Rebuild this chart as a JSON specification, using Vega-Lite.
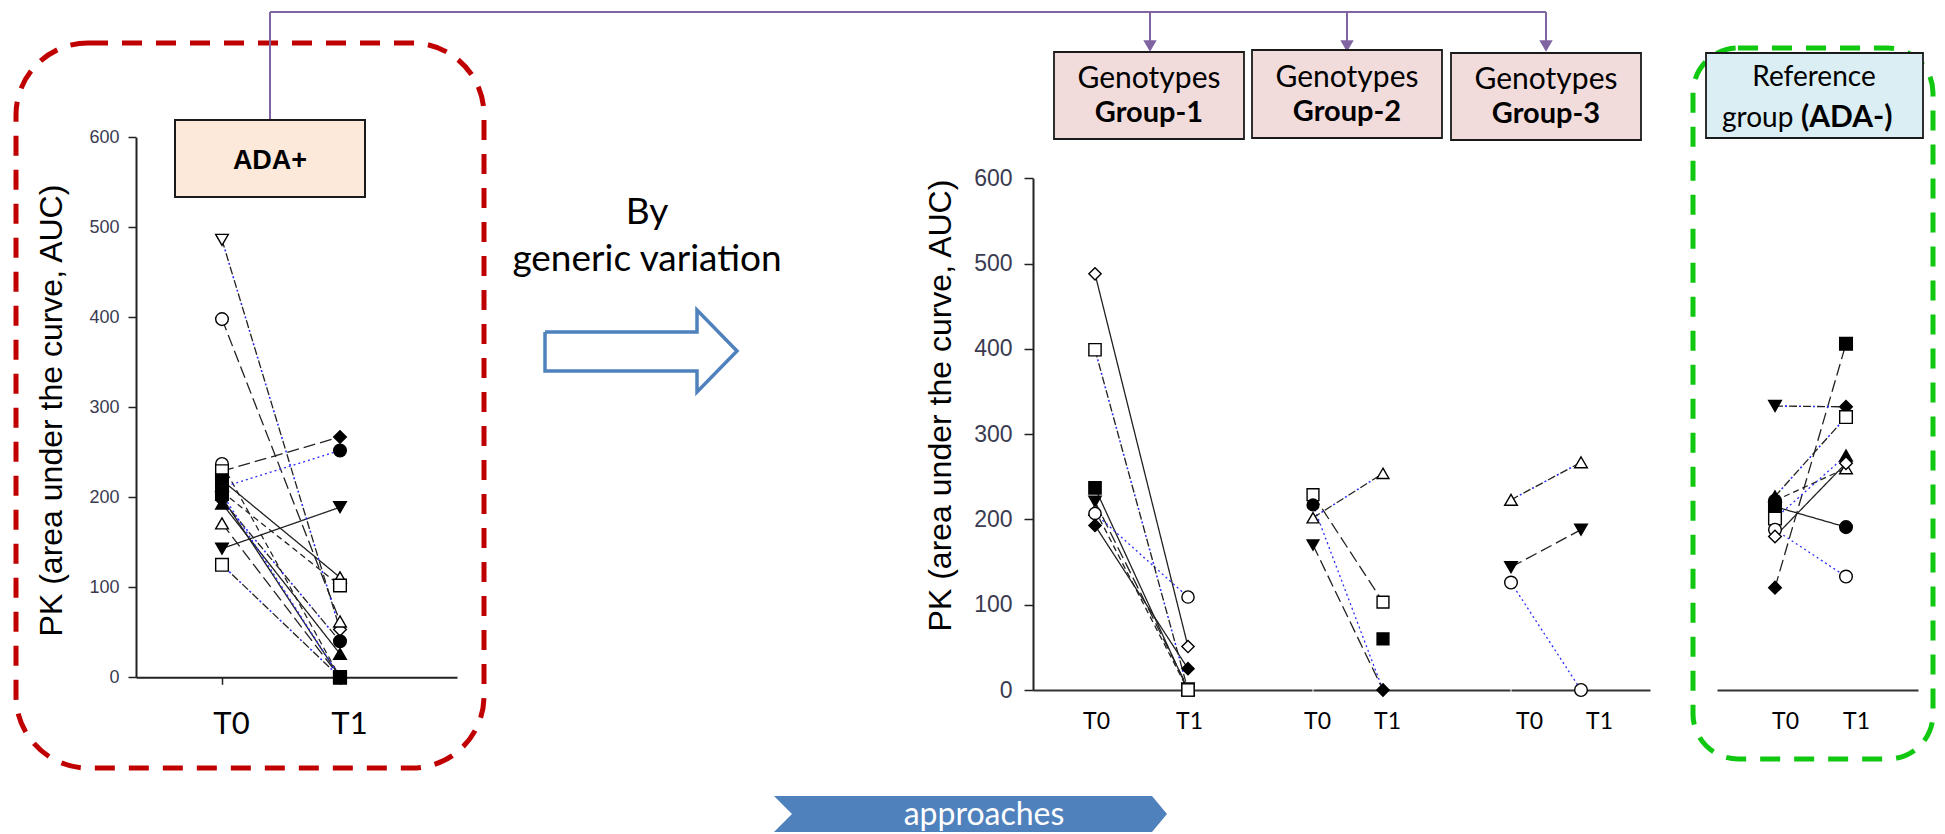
{
  "$schema": "https://vega.github.io/schema/vega-lite/v6.json",
  "width": 1945,
  "height": 834,
  "autosize": {"type": "none"},
  "padding": 0,
  "background": "white",
  "config": {"view": {"stroke": null}, "axis": {"grid": false}},
  "datasets": {
    "pk": [
      {"panel": "ADA+", "subject": "s1", "time": "T0", "auc": 486, "marker": "triangle-down", "fill": "open", "line": "dashdot"},
      {"panel": "ADA+", "subject": "s1", "time": "T1", "auc": 53, "marker": "diamond", "fill": "open", "line": "dashdot"},
      {"panel": "ADA+", "subject": "s2", "time": "T0", "auc": 398, "marker": "circle", "fill": "open", "line": "longdash"},
      {"panel": "ADA+", "subject": "s2", "time": "T1", "auc": 62, "marker": "triangle-up", "fill": "open", "line": "longdash"},
      {"panel": "ADA+", "subject": "s3", "time": "T0", "auc": 237, "marker": "circle", "fill": "open", "line": "dash"},
      {"panel": "ADA+", "subject": "s3", "time": "T1", "auc": 0, "marker": "square", "fill": "filled", "line": "dash"},
      {"panel": "ADA+", "subject": "s4", "time": "T0", "auc": 229, "marker": "square", "fill": "open", "line": "longdash"},
      {"panel": "ADA+", "subject": "s4", "time": "T1", "auc": 267, "marker": "diamond", "fill": "filled", "line": "longdash"},
      {"panel": "ADA+", "subject": "s5", "time": "T0", "auc": 219, "marker": "square", "fill": "filled", "line": "solid"},
      {"panel": "ADA+", "subject": "s5", "time": "T1", "auc": 111, "marker": "triangle-up", "fill": "open", "line": "solid"},
      {"panel": "ADA+", "subject": "s6", "time": "T0", "auc": 211, "marker": "circle", "fill": "filled", "line": "dot"},
      {"panel": "ADA+", "subject": "s6", "time": "T1", "auc": 252, "marker": "circle", "fill": "filled", "line": "dot"},
      {"panel": "ADA+", "subject": "s7", "time": "T0", "auc": 200, "marker": "triangle-down", "fill": "filled", "line": "solid"},
      {"panel": "ADA+", "subject": "s7", "time": "T1", "auc": 0, "marker": "square", "fill": "filled", "line": "solid"},
      {"panel": "ADA+", "subject": "s8", "time": "T0", "auc": 197, "marker": "diamond", "fill": "filled", "line": "dashdot"},
      {"panel": "ADA+", "subject": "s8", "time": "T1", "auc": 40, "marker": "circle", "fill": "filled", "line": "dashdot"},
      {"panel": "ADA+", "subject": "s9", "time": "T0", "auc": 193, "marker": "triangle-up", "fill": "filled", "line": "solid"},
      {"panel": "ADA+", "subject": "s9", "time": "T1", "auc": 26, "marker": "triangle-up", "fill": "filled", "line": "solid"},
      {"panel": "ADA+", "subject": "s10", "time": "T0", "auc": 171, "marker": "triangle-up", "fill": "open", "line": "longdash"},
      {"panel": "ADA+", "subject": "s10", "time": "T1", "auc": 0, "marker": "square", "fill": "filled", "line": "longdash"},
      {"panel": "ADA+", "subject": "s11", "time": "T0", "auc": 143, "marker": "triangle-down", "fill": "filled", "line": "solid"},
      {"panel": "ADA+", "subject": "s11", "time": "T1", "auc": 189, "marker": "triangle-down", "fill": "filled", "line": "solid"},
      {"panel": "ADA+", "subject": "s12", "time": "T0", "auc": 125, "marker": "square", "fill": "open", "line": "dashdot"},
      {"panel": "ADA+", "subject": "s12", "time": "T1", "auc": 0, "marker": "square", "fill": "filled", "line": "dashdot"},
      {"panel": "ADA+", "subject": "s13", "time": "T0", "auc": 206, "marker": "diamond", "fill": "open", "line": "dash"},
      {"panel": "ADA+", "subject": "s13", "time": "T1", "auc": 102, "marker": "square", "fill": "open", "line": "dash"},
      {"panel": "ADA+", "subject": "s14", "time": "T0", "auc": 204, "marker": "square", "fill": "filled", "line": "dot"},
      {"panel": "ADA+", "subject": "s14", "time": "T1", "auc": 0, "marker": "square", "fill": "filled", "line": "dot"},

      {"panel": "Group-1", "subject": "g1a", "time": "T0", "auc": 488, "marker": "diamond", "fill": "open", "line": "solid"},
      {"panel": "Group-1", "subject": "g1a", "time": "T1", "auc": 51, "marker": "diamond", "fill": "open", "line": "solid"},
      {"panel": "Group-1", "subject": "g1c", "time": "T0", "auc": 237, "marker": "square", "fill": "filled", "line": "solid"},
      {"panel": "Group-1", "subject": "g1c", "time": "T1", "auc": 0, "marker": "square", "fill": "filled", "line": "solid"},
      {"panel": "Group-1", "subject": "g1d", "time": "T0", "auc": 221, "marker": "triangle-down", "fill": "filled", "line": "longdash"},
      {"panel": "Group-1", "subject": "g1d", "time": "T1", "auc": 2, "marker": "triangle-down", "fill": "filled", "line": "longdash"},
      {"panel": "Group-1", "subject": "g1e", "time": "T0", "auc": 211, "marker": "triangle-up", "fill": "open", "line": "dash"},
      {"panel": "Group-1", "subject": "g1e", "time": "T1", "auc": 0, "marker": "triangle-up", "fill": "open", "line": "dash"},
      {"panel": "Group-1", "subject": "g1f", "time": "T0", "auc": 207, "marker": "circle", "fill": "open", "line": "dot"},
      {"panel": "Group-1", "subject": "g1f", "time": "T1", "auc": 109, "marker": "circle", "fill": "open", "line": "dot"},
      {"panel": "Group-1", "subject": "g1g", "time": "T0", "auc": 193, "marker": "diamond", "fill": "filled", "line": "solid"},
      {"panel": "Group-1", "subject": "g1g", "time": "T1", "auc": 25, "marker": "diamond", "fill": "filled", "line": "solid"},
      {"panel": "Group-1", "subject": "g1b", "time": "T0", "auc": 399, "marker": "square", "fill": "open", "line": "dashdot"},
      {"panel": "Group-1", "subject": "g1b", "time": "T1", "auc": 0, "marker": "square", "fill": "open", "line": "dashdot"},

      {"panel": "Group-2", "subject": "g2a", "time": "T0", "auc": 229, "marker": "square", "fill": "open", "line": "longdash"},
      {"panel": "Group-2", "subject": "g2a", "time": "T1", "auc": 103, "marker": "square", "fill": "open", "line": "longdash"},
      {"panel": "Group-2", "subject": "g2b", "time": "T0", "auc": 217, "marker": "circle", "fill": "filled", "line": "dot"},
      {"panel": "Group-2", "subject": "g2b", "time": "T1", "auc": 0, "marker": "diamond", "fill": "filled", "line": "dot"},
      {"panel": "Group-2", "subject": "g2c", "time": "T0", "auc": 202, "marker": "triangle-up", "fill": "open", "line": "dashdot"},
      {"panel": "Group-2", "subject": "g2c", "time": "T1", "auc": 254, "marker": "triangle-up", "fill": "open", "line": "dashdot"},
      {"panel": "Group-2", "subject": "g2d", "time": "T0", "auc": 170, "marker": "triangle-down", "fill": "filled", "line": "longdash"},
      {"panel": "Group-2", "subject": "g2d", "time": "T1", "auc": 0, "marker": "diamond", "fill": "filled", "line": "longdash"},
      {"panel": "Group-2", "subject": "g2e", "time": "T1", "auc": 60, "marker": "square", "fill": "filled", "line": "solid"},

      {"panel": "Group-3", "subject": "g3a", "time": "T0", "auc": 223, "marker": "triangle-up", "fill": "open", "line": "dashdot"},
      {"panel": "Group-3", "subject": "g3a", "time": "T1", "auc": 267, "marker": "triangle-up", "fill": "open", "line": "dashdot"},
      {"panel": "Group-3", "subject": "g3b", "time": "T0", "auc": 144, "marker": "triangle-down", "fill": "filled", "line": "longdash"},
      {"panel": "Group-3", "subject": "g3b", "time": "T1", "auc": 188, "marker": "triangle-down", "fill": "filled", "line": "longdash"},
      {"panel": "Group-3", "subject": "g3c", "time": "T0", "auc": 126, "marker": "circle", "fill": "open", "line": "dot"},
      {"panel": "Group-3", "subject": "g3c", "time": "T1", "auc": 0, "marker": "circle", "fill": "open", "line": "dot"},

      {"panel": "ADA-", "subject": "r1", "time": "T0", "auc": 120, "marker": "diamond", "fill": "filled", "line": "longdash"},
      {"panel": "ADA-", "subject": "r1", "time": "T1", "auc": 406, "marker": "square", "fill": "filled", "line": "longdash"},
      {"panel": "ADA-", "subject": "r2", "time": "T0", "auc": 333, "marker": "triangle-down", "fill": "filled", "line": "dashdot"},
      {"panel": "ADA-", "subject": "r2", "time": "T1", "auc": 332, "marker": "diamond", "fill": "filled", "line": "dashdot"},
      {"panel": "ADA-", "subject": "r8", "time": "T0", "auc": 222, "marker": "circle", "fill": "filled", "line": "dash"},
      {"panel": "ADA-", "subject": "r8", "time": "T1", "auc": 260, "marker": "triangle-up", "fill": "open", "line": "dash"},
      {"panel": "ADA-", "subject": "r4", "time": "T0", "auc": 215, "marker": "square", "fill": "filled", "line": "solid"},
      {"panel": "ADA-", "subject": "r4", "time": "T1", "auc": 191, "marker": "circle", "fill": "filled", "line": "solid"},
      {"panel": "ADA-", "subject": "r3", "time": "T0", "auc": 227, "marker": "triangle-up", "fill": "filled", "line": "dashdot"},
      {"panel": "ADA-", "subject": "r3", "time": "T1", "auc": 320, "marker": "square", "fill": "open", "line": "dashdot"},
      {"panel": "ADA-", "subject": "r5", "time": "T0", "auc": 201, "marker": "square", "fill": "open", "line": "dot"},
      {"panel": "ADA-", "subject": "r5", "time": "T1", "auc": 275, "marker": "triangle-up", "fill": "filled", "line": "dot"},
      {"panel": "ADA-", "subject": "r7", "time": "T0", "auc": 188, "marker": "circle", "fill": "open", "line": "dot"},
      {"panel": "ADA-", "subject": "r7", "time": "T1", "auc": 133, "marker": "circle", "fill": "open", "line": "dot"},
      {"panel": "ADA-", "subject": "r6", "time": "T0", "auc": 180, "marker": "diamond", "fill": "open", "line": "solid"},
      {"panel": "ADA-", "subject": "r6", "time": "T1", "auc": 266, "marker": "diamond", "fill": "open", "line": "solid"}
    ],
    "frames": [
      {"role": "ADA+", "x": 16, "x2": 484, "y": 43, "y2": 768},
      {"role": "ADA-", "x": 1693, "x2": 1933, "y": 48, "y2": 759}
    ],
    "tags": [
      {"role": "ada", "x": 175, "x2": 365, "y": 120, "y2": 197},
      {"role": "geno", "x": 1054, "x2": 1244, "y": 52, "y2": 139},
      {"role": "geno", "x": 1252, "x2": 1442, "y": 50, "y2": 138},
      {"role": "geno", "x": 1451, "x2": 1641, "y": 53, "y2": 140},
      {"role": "ref", "x": 1706, "x2": 1923, "y": 53, "y2": 138}
    ],
    "links": [
      {"x": 270, "y": 120, "x2": 270, "y2": 12},
      {"x": 270, "y": 12, "x2": 1546, "y2": 12},
      {"x": 1150, "y": 12, "x2": 1150, "y2": 42},
      {"x": 1347, "y": 12, "x2": 1347, "y2": 42},
      {"x": 1546, "y": 12, "x2": 1546, "y2": 42}
    ],
    "heads": [
      {"x": 1150, "y": 46},
      {"x": 1347, "y": 46},
      {"x": 1546, "y": 46}
    ],
    "outline": [
      {"i": 0, "x": 545, "y": 332},
      {"i": 1, "x": 697, "y": 332},
      {"i": 2, "x": 697, "y": 310},
      {"i": 3, "x": 737, "y": 351},
      {"i": 4, "x": 697, "y": 392},
      {"i": 5, "x": 697, "y": 371},
      {"i": 6, "x": 545, "y": 371},
      {"i": 7, "x": 545, "y": 332}
    ],
    "chevron": [{"x": 970.5, "y": 814}],
    "notes": [
      {"role": "ada", "text": "ADA+", "x": 270, "y": 169},
      {"role": "geno", "text": "Genotypes", "x": 1149, "y": 88},
      {"role": "genobold", "text": "Group-1", "x": 1149, "y": 122},
      {"role": "geno", "text": "Genotypes", "x": 1347, "y": 87},
      {"role": "genobold", "text": "Group-2", "x": 1347, "y": 121},
      {"role": "geno", "text": "Genotypes", "x": 1546, "y": 89},
      {"role": "genobold", "text": "Group-3", "x": 1546, "y": 123},
      {"role": "ref", "text": "Reference", "x": 1814, "y": 86},
      {"role": "refleft", "text": "group", "x": 1722, "y": 127},
      {"role": "refbold", "text": "(ADA-)", "x": 1801, "y": 127},
      {"role": "note", "text": "By", "x": 647, "y": 224},
      {"role": "note", "text": "generic variation", "x": 647, "y": 271},
      {"role": "chev", "text": "approaches", "x": 984, "y": 825}
    ]
  },
  "layer": [
    {
      "layer": [
        {
          "data": {"name": "frames"},
          "transform": [{"filter": "datum.role === 'ADA+'"}],
          "mark": {"type": "rect", "filled": false, "stroke": "#C00000", "strokeWidth": 5, "strokeDash": [20, 14], "cornerRadius": 72},
          "encoding": {
            "x": {"field": "x", "type": "quantitative", "scale": {"domain": [0, 1945], "range": [0, 1945], "nice": false, "zero": false}, "axis": null},
            "x2": {"field": "x2"},
            "y": {"field": "y", "type": "quantitative", "scale": {"domain": [0, 834], "range": [0, 834], "nice": false, "zero": false}, "axis": null},
            "y2": {"field": "y2"}
          }
        },
        {
          "data": {"name": "frames"},
          "transform": [{"filter": "datum.role === 'ADA-'"}],
          "mark": {"type": "rect", "filled": false, "stroke": "#11C811", "strokeWidth": 5, "strokeDash": [20, 14], "cornerRadius": 45},
          "encoding": {
            "x": {"field": "x", "type": "quantitative", "scale": {"domain": [0, 1945], "range": [0, 1945], "nice": false, "zero": false}, "axis": null},
            "x2": {"field": "x2"},
            "y": {"field": "y", "type": "quantitative", "scale": {"domain": [0, 834], "range": [0, 834], "nice": false, "zero": false}, "axis": null},
            "y2": {"field": "y2"}
          }
        },
        {
          "data": {"name": "links"},
          "mark": {"type": "rule", "stroke": "#8064A2", "strokeWidth": 2},
          "encoding": {
            "x": {"field": "x", "type": "quantitative", "scale": {"domain": [0, 1945], "range": [0, 1945], "nice": false, "zero": false}, "axis": null},
            "x2": {"field": "x2"},
            "y": {"field": "y", "type": "quantitative", "scale": {"domain": [0, 834], "range": [0, 834], "nice": false, "zero": false}, "axis": null},
            "y2": {"field": "y2"}
          }
        },
        {
          "data": {"name": "heads"},
          "mark": {"type": "point", "shape": "triangle-down", "size": 180, "filled": true, "fill": "#8064A2", "strokeWidth": 0, "opacity": 1},
          "encoding": {
            "x": {"field": "x", "type": "quantitative", "scale": {"domain": [0, 1945], "range": [0, 1945], "nice": false, "zero": false}, "axis": null},
            "y": {"field": "y", "type": "quantitative", "scale": {"domain": [0, 834], "range": [0, 834], "nice": false, "zero": false}, "axis": null}
          }
        },
        {
          "data": {"name": "tags"},
          "transform": [{"filter": "datum.role === 'ada'"}],
          "mark": {"type": "rect", "fill": "#FDE9D9", "stroke": "#1a1a1a", "strokeWidth": 2},
          "encoding": {
            "x": {"field": "x", "type": "quantitative", "scale": {"domain": [0, 1945], "range": [0, 1945], "nice": false, "zero": false}, "axis": null},
            "x2": {"field": "x2"},
            "y": {"field": "y", "type": "quantitative", "scale": {"domain": [0, 834], "range": [0, 834], "nice": false, "zero": false}, "axis": null},
            "y2": {"field": "y2"}
          }
        },
        {
          "data": {"name": "tags"},
          "transform": [{"filter": "datum.role === 'geno'"}],
          "mark": {"type": "rect", "fill": "#F2DCDB", "stroke": "#1a1a1a", "strokeWidth": 1.8},
          "encoding": {
            "x": {"field": "x", "type": "quantitative", "scale": {"domain": [0, 1945], "range": [0, 1945], "nice": false, "zero": false}, "axis": null},
            "x2": {"field": "x2"},
            "y": {"field": "y", "type": "quantitative", "scale": {"domain": [0, 834], "range": [0, 834], "nice": false, "zero": false}, "axis": null},
            "y2": {"field": "y2"}
          }
        },
        {
          "data": {"name": "tags"},
          "transform": [{"filter": "datum.role === 'ref'"}],
          "mark": {"type": "rect", "fill": "#DAEEF3", "stroke": "#1a1a1a", "strokeWidth": 1.8},
          "encoding": {
            "x": {"field": "x", "type": "quantitative", "scale": {"domain": [0, 1945], "range": [0, 1945], "nice": false, "zero": false}, "axis": null},
            "x2": {"field": "x2"},
            "y": {"field": "y", "type": "quantitative", "scale": {"domain": [0, 834], "range": [0, 834], "nice": false, "zero": false}, "axis": null},
            "y2": {"field": "y2"}
          }
        },
        {
          "data": {"name": "outline"},
          "mark": {"type": "line", "stroke": "#4F81BD", "strokeWidth": 3.5, "strokeJoin": "miter"},
          "encoding": {
            "x": {"field": "x", "type": "quantitative", "scale": {"domain": [0, 1945], "range": [0, 1945], "nice": false, "zero": false}, "axis": null},
            "y": {"field": "y", "type": "quantitative", "scale": {"domain": [0, 834], "range": [0, 834], "nice": false, "zero": false}, "axis": null},
            "order": {"field": "i", "type": "quantitative"}
          }
        },
        {
          "data": {"name": "chevron"},
          "mark": {"type": "point", "shape": "M -1 -0.0916 L 0.9237 -0.0916 L 1 0 L 0.9237 0.0916 L -1 0.0916 L -0.9084 0 Z", "size": 154449, "filled": true, "fill": "#4F81BD", "strokeWidth": 0, "opacity": 1},
          "encoding": {
            "x": {"field": "x", "type": "quantitative", "scale": {"domain": [0, 1945], "range": [0, 1945], "nice": false, "zero": false}, "axis": null},
            "y": {"field": "y", "type": "quantitative", "scale": {"domain": [0, 834], "range": [0, 834], "nice": false, "zero": false}, "axis": null}
          }
        },
        {
          "data": {"name": "notes"},
          "transform": [{"filter": "datum.role === 'ada'"}],
          "mark": {"type": "text", "font": "Liberation Sans", "fontSize": 27, "fontWeight": "bold", "align": "center", "baseline": "alphabetic", "color": "#000"},
          "encoding": {
            "x": {"field": "x", "type": "quantitative", "scale": {"domain": [0, 1945], "range": [0, 1945], "nice": false, "zero": false}, "axis": null},
            "y": {"field": "y", "type": "quantitative", "scale": {"domain": [0, 834], "range": [0, 834], "nice": false, "zero": false}, "axis": null},
            "text": {"field": "text"}
          }
        },
        {
          "data": {"name": "notes"},
          "transform": [{"filter": "datum.role === 'geno'"}],
          "mark": {"type": "text", "font": "Lato", "fontSize": 30, "align": "center", "baseline": "alphabetic", "color": "#000"},
          "encoding": {
            "x": {"field": "x", "type": "quantitative", "scale": {"domain": [0, 1945], "range": [0, 1945], "nice": false, "zero": false}, "axis": null},
            "y": {"field": "y", "type": "quantitative", "scale": {"domain": [0, 834], "range": [0, 834], "nice": false, "zero": false}, "axis": null},
            "text": {"field": "text"}
          }
        },
        {
          "data": {"name": "notes"},
          "transform": [{"filter": "datum.role === 'genobold'"}],
          "mark": {"type": "text", "font": "Lato", "fontSize": 29, "fontWeight": "bold", "align": "center", "baseline": "alphabetic", "color": "#000"},
          "encoding": {
            "x": {"field": "x", "type": "quantitative", "scale": {"domain": [0, 1945], "range": [0, 1945], "nice": false, "zero": false}, "axis": null},
            "y": {"field": "y", "type": "quantitative", "scale": {"domain": [0, 834], "range": [0, 834], "nice": false, "zero": false}, "axis": null},
            "text": {"field": "text"}
          }
        },
        {
          "data": {"name": "notes"},
          "transform": [{"filter": "datum.role === 'ref'"}],
          "mark": {"type": "text", "font": "Lato", "fontSize": 28, "align": "center", "baseline": "alphabetic", "color": "#000"},
          "encoding": {
            "x": {"field": "x", "type": "quantitative", "scale": {"domain": [0, 1945], "range": [0, 1945], "nice": false, "zero": false}, "axis": null},
            "y": {"field": "y", "type": "quantitative", "scale": {"domain": [0, 834], "range": [0, 834], "nice": false, "zero": false}, "axis": null},
            "text": {"field": "text"}
          }
        },
        {
          "data": {"name": "notes"},
          "transform": [{"filter": "datum.role === 'refleft'"}],
          "mark": {"type": "text", "font": "Lato", "fontSize": 28, "align": "left", "baseline": "alphabetic", "color": "#000"},
          "encoding": {
            "x": {"field": "x", "type": "quantitative", "scale": {"domain": [0, 1945], "range": [0, 1945], "nice": false, "zero": false}, "axis": null},
            "y": {"field": "y", "type": "quantitative", "scale": {"domain": [0, 834], "range": [0, 834], "nice": false, "zero": false}, "axis": null},
            "text": {"field": "text"}
          }
        },
        {
          "data": {"name": "notes"},
          "transform": [{"filter": "datum.role === 'refbold'"}],
          "mark": {"type": "text", "font": "Lato", "fontSize": 30, "fontWeight": "bold", "align": "left", "baseline": "alphabetic", "color": "#000"},
          "encoding": {
            "x": {"field": "x", "type": "quantitative", "scale": {"domain": [0, 1945], "range": [0, 1945], "nice": false, "zero": false}, "axis": null},
            "y": {"field": "y", "type": "quantitative", "scale": {"domain": [0, 834], "range": [0, 834], "nice": false, "zero": false}, "axis": null},
            "text": {"field": "text"}
          }
        },
        {
          "data": {"name": "notes"},
          "transform": [{"filter": "datum.role === 'note'"}],
          "mark": {"type": "text", "font": "Lato", "fontSize": 37, "align": "center", "baseline": "alphabetic", "color": "#000"},
          "encoding": {
            "x": {"field": "x", "type": "quantitative", "scale": {"domain": [0, 1945], "range": [0, 1945], "nice": false, "zero": false}, "axis": null},
            "y": {"field": "y", "type": "quantitative", "scale": {"domain": [0, 834], "range": [0, 834], "nice": false, "zero": false}, "axis": null},
            "text": {"field": "text"}
          }
        },
        {
          "data": {"name": "notes"},
          "transform": [{"filter": "datum.role === 'chev'"}],
          "mark": {"type": "text", "font": "Lato", "fontSize": 32, "align": "center", "baseline": "alphabetic", "color": "#ffffff"},
          "encoding": {
            "x": {"field": "x", "type": "quantitative", "scale": {"domain": [0, 1945], "range": [0, 1945], "nice": false, "zero": false}, "axis": null},
            "y": {"field": "y", "type": "quantitative", "scale": {"domain": [0, 834], "range": [0, 834], "nice": false, "zero": false}, "axis": null},
            "text": {"field": "text"}
          }
        }
      ]
    },
    {
      "data": {"name": "pk"},
      "transform": [{"filter": "datum.panel === 'ADA+'"}],
      "encoding": {
        "x": {"field": "time", "type": "ordinal",
          "scale": {"type": "point", "domain": ["T0", "T1"], "range": [136, 457], "padding": 0.86017, "align": 0.42365},
          "axis": {"orient": "bottom", "offset": -156.7, "title": null, "domainColor": "#222", "domainWidth": 2, "tickColor": "#222", "tickWidth": 1.5, "tickSize": 7, "labelFont": "Lato", "labelFontSize": 31, "labelColor": "#000", "labelPadding": 25, "labelOffset": 9, "labelAngle": 0}},
        "y": {"field": "auc", "type": "quantitative",
          "scale": {"domain": [0, 600], "range": [677.3, 137.3], "nice": false, "zero": false},
          "axis": {"orient": "left", "offset": -136, "values": [0, 100, 200, 300, 400, 500, 600], "domainColor": "#222", "domainWidth": 2, "tickColor": "#222", "tickWidth": 1.5, "tickSize": 8, "labelFont": "Liberation Sans", "labelFontSize": 18, "labelColor": "#3a3a50", "labelPadding": 9, "title": "PK (area under the curve, AUC)", "titleFont": "Liberation Sans", "titleFontSize": 32, "titleFontWeight": "normal", "titleColor": "#000", "titleAngle": 270, "titleBaseline": "middle", "titleAlign": "center", "titleX": -85, "titleY": 410}}
      },
      "layer": [
        {
          "mark": {"type": "line", "strokeWidth": 1.3},
          "encoding": {
            "detail": {"field": "subject"},
            "strokeDash": {"field": "line", "type": "nominal", "scale": {"domain": ["solid", "longdash", "dash", "dashdot", "dot"], "range": [[1, 0], [12, 5], [6, 4], [8, 6], [2, 3]]}, "legend": null},
            "color": {"field": "line", "type": "nominal", "scale": {"domain": ["solid", "longdash", "dash", "dashdot", "dot"], "range": ["#222222", "#222222", "#222222", "#222222", "#2b2bff"]}, "legend": null}
          }
        },
        {
          "transform": [{"filter": "datum.line === 'dashdot'"}],
          "mark": {"type": "line", "strokeWidth": 1.6, "stroke": "#2b2bff", "strokeDash": [2, 12], "strokeDashOffset": 4},
          "encoding": {"detail": {"field": "subject"}}
        },
        {
          "mark": {"type": "point", "filled": true, "stroke": "#000", "strokeWidth": 1.4, "size": 160, "opacity": 1},
          "encoding": {
            "shape": {"field": "marker", "type": "nominal", "scale": null},
            "fill": {"field": "fill", "type": "nominal", "scale": {"domain": ["filled", "open"], "range": ["#000000", "#ffffff"]}, "legend": null}
          }
        }
      ]
    },
    {
      "data": {"name": "pk"},
      "transform": [{"filter": "datum.panel === 'Group-1'"}],
      "encoding": {
        "x": {"field": "time", "type": "ordinal",
          "scale": {"type": "point", "domain": ["T0", "T1"], "range": [1033, 1312], "padding": 1.52174, "align": 0.33333},
          "axis": {"orient": "bottom", "offset": -144, "title": null, "domainColor": "#333", "domainWidth": 2, "ticks": false, "tickSize": 0, "labelFont": "Lato", "labelFontSize": 23, "labelColor": "#000", "labelPadding": 20, "labelOffset": 1, "labelAngle": 0}},
        "y": {"field": "auc", "type": "quantitative",
          "scale": {"domain": [0, 600], "range": [690, 178.3], "nice": false, "zero": false},
          "axis": {"orient": "left", "offset": -1033, "values": [0, 100, 200, 300, 400, 500, 600], "domainColor": "#222", "domainWidth": 2, "tickColor": "#222", "tickWidth": 1.5, "tickSize": 9, "labelFont": "Liberation Sans", "labelFontSize": 23, "labelColor": "#3a3a50", "labelPadding": 12, "title": "PK (area under the curve, AUC)", "titleFont": "Liberation Sans", "titleFontSize": 32, "titleFontWeight": "normal", "titleColor": "#000", "titleAngle": 270, "titleBaseline": "middle", "titleAlign": "center", "titleX": -93, "titleY": 405}}
      },
      "layer": [
        {
          "mark": {"type": "line", "strokeWidth": 1.3},
          "encoding": {
            "detail": {"field": "subject"},
            "strokeDash": {"field": "line", "type": "nominal", "scale": {"domain": ["solid", "longdash", "dash", "dashdot", "dot"], "range": [[1, 0], [12, 5], [6, 4], [8, 6], [2, 3]]}, "legend": null},
            "color": {"field": "line", "type": "nominal", "scale": {"domain": ["solid", "longdash", "dash", "dashdot", "dot"], "range": ["#222222", "#222222", "#222222", "#222222", "#2b2bff"]}, "legend": null}
          }
        },
        {
          "transform": [{"filter": "datum.line === 'dashdot'"}],
          "mark": {"type": "line", "strokeWidth": 1.6, "stroke": "#2b2bff", "strokeDash": [2, 12], "strokeDashOffset": 4},
          "encoding": {"detail": {"field": "subject"}}
        },
        {
          "mark": {"type": "point", "filled": true, "stroke": "#000", "strokeWidth": 1.4, "size": 150, "opacity": 1},
          "encoding": {
            "shape": {"field": "marker", "type": "nominal", "scale": null},
            "fill": {"field": "fill", "type": "nominal", "scale": {"domain": ["filled", "open"], "range": ["#000000", "#ffffff"]}, "legend": null}
          }
        }
      ]
    },
    {
      "data": {"name": "pk"},
      "transform": [{"filter": "datum.panel === 'Group-2'"}],
      "encoding": {
        "x": {"field": "time", "type": "ordinal",
          "scale": {"type": "point", "domain": ["T0", "T1"], "range": [1313, 1510], "padding": 0.90714, "align": 0},
          "axis": {"orient": "bottom", "offset": -144, "title": null, "domainColor": "#333", "domainWidth": 2, "ticks": false, "tickSize": 0, "labelFont": "Lato", "labelFontSize": 23, "labelColor": "#000", "labelPadding": 20, "labelOffset": 4, "labelAngle": 0}},
        "y": {"field": "auc", "type": "quantitative",
          "scale": {"domain": [0, 600], "range": [690, 178.3], "nice": false, "zero": false},
          "axis": null}
      },
      "layer": [
        {
          "mark": {"type": "line", "strokeWidth": 1.3},
          "encoding": {
            "detail": {"field": "subject"},
            "strokeDash": {"field": "line", "type": "nominal", "scale": {"domain": ["solid", "longdash", "dash", "dashdot", "dot"], "range": [[1, 0], [12, 5], [6, 4], [8, 6], [2, 3]]}, "legend": null},
            "color": {"field": "line", "type": "nominal", "scale": {"domain": ["solid", "longdash", "dash", "dashdot", "dot"], "range": ["#222222", "#222222", "#222222", "#222222", "#2b2bff"]}, "legend": null}
          }
        },
        {
          "transform": [{"filter": "datum.line === 'dashdot'"}],
          "mark": {"type": "line", "strokeWidth": 1.6, "stroke": "#2b2bff", "strokeDash": [2, 12], "strokeDashOffset": 4},
          "encoding": {"detail": {"field": "subject"}}
        },
        {
          "mark": {"type": "point", "filled": true, "stroke": "#000", "strokeWidth": 1.4, "size": 140, "opacity": 1},
          "encoding": {
            "shape": {"field": "marker", "type": "nominal", "scale": null},
            "fill": {"field": "fill", "type": "nominal", "scale": {"domain": ["filled", "open"], "range": ["#000000", "#ffffff"]}, "legend": null}
          }
        }
      ]
    },
    {
      "data": {"name": "pk"},
      "transform": [{"filter": "datum.panel === 'Group-3'"}],
      "encoding": {
        "x": {"field": "time", "type": "ordinal",
          "scale": {"type": "point", "domain": ["T0", "T1"], "range": [1511, 1650], "padding": 0.49286, "align": 0},
          "axis": {"orient": "bottom", "offset": -144, "title": null, "domainColor": "#333", "domainWidth": 2, "ticks": false, "tickSize": 0, "labelFont": "Lato", "labelFontSize": 23, "labelColor": "#000", "labelPadding": 20, "labelOffset": 18, "labelAngle": 0}},
        "y": {"field": "auc", "type": "quantitative",
          "scale": {"domain": [0, 600], "range": [690, 178.3], "nice": false, "zero": false},
          "axis": null}
      },
      "layer": [
        {
          "mark": {"type": "line", "strokeWidth": 1.3},
          "encoding": {
            "detail": {"field": "subject"},
            "strokeDash": {"field": "line", "type": "nominal", "scale": {"domain": ["solid", "longdash", "dash", "dashdot", "dot"], "range": [[1, 0], [12, 5], [6, 4], [8, 6], [2, 3]]}, "legend": null},
            "color": {"field": "line", "type": "nominal", "scale": {"domain": ["solid", "longdash", "dash", "dashdot", "dot"], "range": ["#222222", "#222222", "#222222", "#222222", "#2b2bff"]}, "legend": null}
          }
        },
        {
          "transform": [{"filter": "datum.line === 'dashdot'"}],
          "mark": {"type": "line", "strokeWidth": 1.6, "stroke": "#2b2bff", "strokeDash": [2, 12], "strokeDashOffset": 4},
          "encoding": {"detail": {"field": "subject"}}
        },
        {
          "mark": {"type": "point", "filled": true, "stroke": "#000", "strokeWidth": 1.4, "size": 160, "opacity": 1},
          "encoding": {
            "shape": {"field": "marker", "type": "nominal", "scale": null},
            "fill": {"field": "fill", "type": "nominal", "scale": {"domain": ["filled", "open"], "range": ["#000000", "#ffffff"]}, "legend": null}
          }
        }
      ]
    },
    {
      "data": {"name": "pk"},
      "transform": [{"filter": "datum.panel === 'ADA-'"}],
      "encoding": {
        "x": {"field": "time", "type": "ordinal",
          "scale": {"type": "point", "domain": ["T0", "T1"], "range": [1717, 1918], "padding": 0.9155, "align": 0.44615},
          "axis": {"orient": "bottom", "offset": -144, "title": null, "domainColor": "#333", "domainWidth": 2, "ticks": false, "tickSize": 0, "labelFont": "Lato", "labelFontSize": 23, "labelColor": "#000", "labelPadding": 20, "labelOffset": 10, "labelAngle": 0}},
        "y": {"field": "auc", "type": "quantitative",
          "scale": {"domain": [0, 600], "range": [690, 178.3], "nice": false, "zero": false},
          "axis": null}
      },
      "layer": [
        {
          "mark": {"type": "line", "strokeWidth": 1.3},
          "encoding": {
            "detail": {"field": "subject"},
            "strokeDash": {"field": "line", "type": "nominal", "scale": {"domain": ["solid", "longdash", "dash", "dashdot", "dot"], "range": [[1, 0], [12, 5], [6, 4], [8, 6], [2, 3]]}, "legend": null},
            "color": {"field": "line", "type": "nominal", "scale": {"domain": ["solid", "longdash", "dash", "dashdot", "dot"], "range": ["#222222", "#222222", "#222222", "#222222", "#2b2bff"]}, "legend": null}
          }
        },
        {
          "transform": [{"filter": "datum.line === 'dashdot'"}],
          "mark": {"type": "line", "strokeWidth": 1.6, "stroke": "#2b2bff", "strokeDash": [2, 12], "strokeDashOffset": 4},
          "encoding": {"detail": {"field": "subject"}}
        },
        {
          "mark": {"type": "point", "filled": true, "stroke": "#000", "strokeWidth": 1.4, "size": 160, "opacity": 1},
          "encoding": {
            "shape": {"field": "marker", "type": "nominal", "scale": null},
            "fill": {"field": "fill", "type": "nominal", "scale": {"domain": ["filled", "open"], "range": ["#000000", "#ffffff"]}, "legend": null}
          }
        }
      ]
    }
  ],
  "resolve": {
    "scale": {"x": "independent", "y": "independent"},
    "axis": {"x": "independent", "y": "independent"}
  }
}
